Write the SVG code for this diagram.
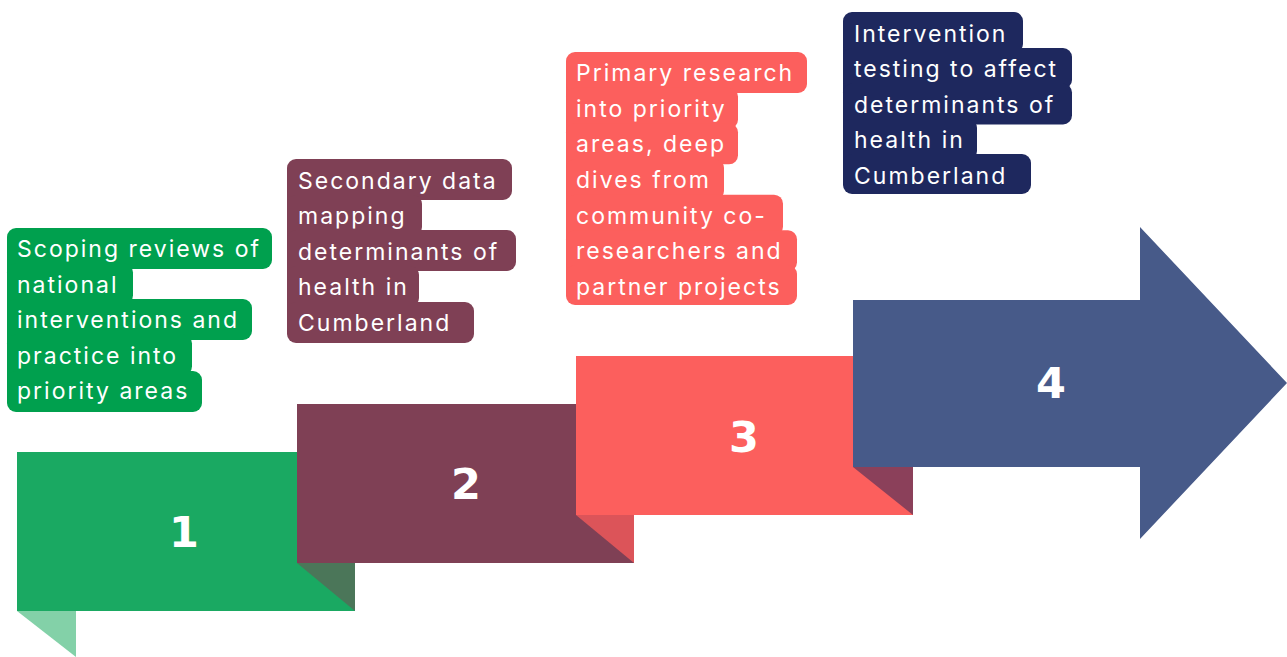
<svg xmlns="http://www.w3.org/2000/svg" width="1287" height="657" viewBox="0 0 1287 657">
<style>
.t{font-family:Inter,"Liberation Sans",sans-serif;font-size:23px;letter-spacing:2px;fill:#ffffff}
.n{font-family:"DejaVu Sans",sans-serif;font-weight:bold;font-size:43px;fill:#ffffff;text-anchor:middle}
</style>
<rect width="1287" height="657" fill="#ffffff"/>
<g id="step1">
<rect x="17" y="452" width="338" height="159" fill="#1aa962"/>
<polygon points="17,611 76,611 76,657" fill="#83d1a8"/>
<text class="n" x="184" y="547">1</text>
</g>
<g id="step2">
<rect x="297" y="404" width="337" height="159" fill="#7f4055"/>
<polygon points="297,563 355,563 355,611" fill="#4b7659"/>
<text class="n" x="466" y="499">2</text>
</g>
<g id="step3">
<rect x="576" y="356" width="337" height="159" fill="#fc5f5d"/>
<polygon points="576,515 634,515 634,563" fill="#dc5459"/>
<text class="n" x="744" y="452">3</text>
</g>
<g id="step4">
<polygon points="853,300 1140,300 1140,227 1287,383 1140,539 1140,467 853,467" fill="#475a89"/>
<polygon points="853,467 913,467 913,515" fill="#8b405a"/>
<text class="n" x="1051" y="398">4</text>
</g>
<g id="label1" fill="#00a04e">
<rect x="7" y="238" width="30" height="164"/>
<rect x="7" y="228" width="265" height="41" rx="9"/>
<rect x="7" y="263.5" width="126" height="41" rx="9"/>
<rect x="7" y="299" width="245" height="41" rx="9"/>
<rect x="7" y="334.5" width="185" height="41" rx="9"/>
<rect x="7" y="371" width="195" height="41" rx="9"/>
<text class="t" x="17" y="257">Scoping reviews of</text>
<text class="t" x="17" y="292.5">national</text>
<text class="t" x="17" y="328">interventions and</text>
<text class="t" x="17" y="363.5">practice into</text>
<text class="t" x="17" y="399">priority areas</text>
</g>
<g id="label2" fill="#7f4055">
<rect x="287" y="169" width="30" height="164"/>
<rect x="287" y="159" width="225" height="41" rx="9"/>
<rect x="287" y="195" width="135" height="41" rx="9"/>
<rect x="287" y="230" width="229" height="41" rx="9"/>
<rect x="287" y="266" width="132" height="41" rx="9"/>
<rect x="287" y="302" width="187" height="41" rx="9"/>
<text class="t" x="298" y="189">Secondary data</text>
<text class="t" x="298" y="224">mapping</text>
<text class="t" x="298" y="259.5">determinants of</text>
<text class="t" x="298" y="295">health in</text>
<text class="t" x="298" y="331">Cumberland</text>
</g>
<g id="label3" fill="#fc5f5d">
<rect x="566" y="62" width="30" height="233"/>
<rect x="566" y="52" width="241" height="41" rx="9"/>
<rect x="566" y="87.7" width="172" height="41" rx="9"/>
<rect x="566" y="123.3" width="172" height="41" rx="9"/>
<rect x="566" y="159" width="158" height="41" rx="9"/>
<rect x="566" y="194.7" width="217" height="41" rx="9"/>
<rect x="566" y="230.3" width="231" height="41" rx="9"/>
<rect x="566" y="265" width="231" height="40" rx="9"/>
<text class="t" x="576" y="81">Primary research</text>
<text class="t" x="576" y="116.7">into priority</text>
<text class="t" x="576" y="152.3">areas, deep</text>
<text class="t" x="576" y="188">dives from</text>
<text class="t" x="576" y="223.7">community co-</text>
<text class="t" x="576" y="259.3">researchers and</text>
<text class="t" x="576" y="295">partner projects</text>
</g>
<g id="label4" fill="#1e285e">
<rect x="843" y="22" width="30" height="162"/>
<rect x="843" y="12" width="180" height="41" rx="9"/>
<rect x="843" y="48" width="229" height="41" rx="9"/>
<rect x="843" y="83.5" width="229" height="41" rx="9"/>
<rect x="843" y="119" width="134" height="41" rx="9"/>
<rect x="843" y="154" width="188" height="40" rx="9"/>
<text class="t" x="854" y="41.5">Intervention</text>
<text class="t" x="854" y="77">testing to affect</text>
<text class="t" x="854" y="112.5">determinants of</text>
<text class="t" x="854" y="148">health in</text>
<text class="t" x="854" y="183.5">Cumberland</text>
</g>
<g id="connectors"></g>
</svg>
